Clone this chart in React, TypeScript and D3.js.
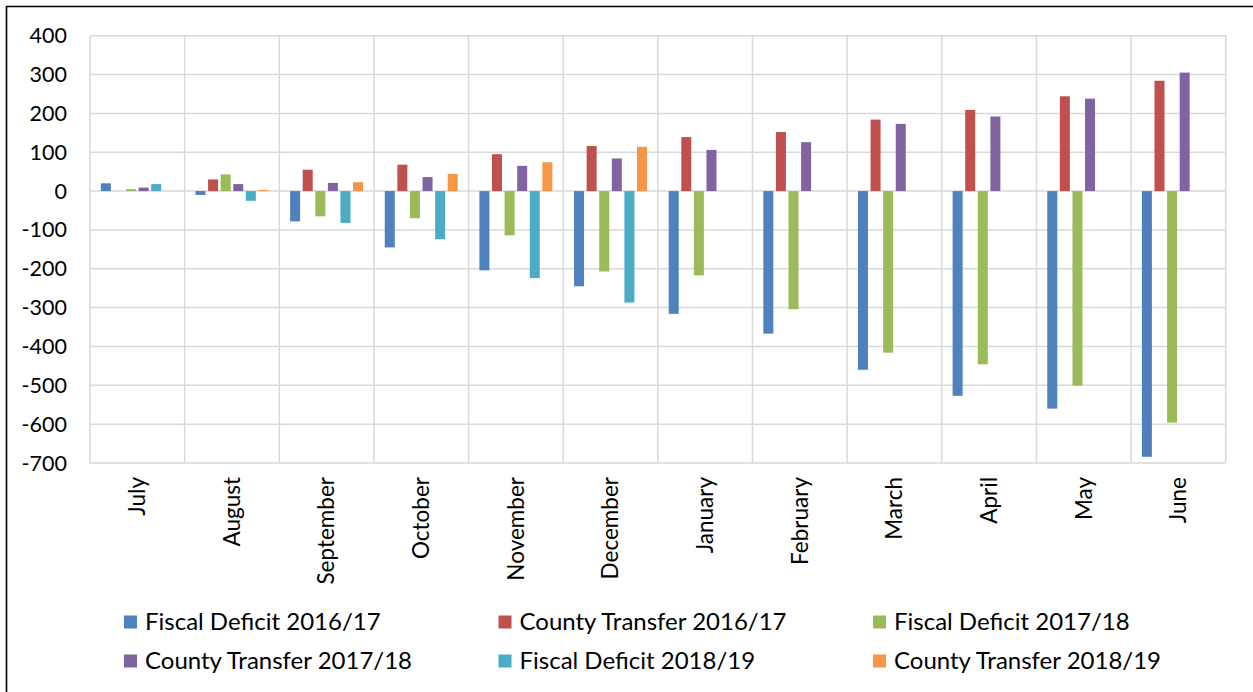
import React from 'react';
import * as d3 from 'd3';

// Months of the fiscal year (July to June)
const months = [
    'July', 'August', 'September', 'October', 'November', 'December',
    'January', 'February', 'March', 'April', 'May', 'June',
];

const seriesNames = [
    'Fiscal Deficit 2016/17',
    'County Transfer 2016/17',
    'Fiscal Deficit 2017/18',
    'County Transfer 2017/18',
    'Fiscal Deficit 2018/19',
    'County Transfer 2018/19',
];

const seriesColors = ['#4F81BD', '#C0504D', '#9BBB59', '#8064A2', '#4BACC6', '#F79646'];

const fiscalDeficit1617 = [20, -10, -78, -145, -204, -245, -316, -367, -460, -527, -560, -684];
const countyTransfer1617 = [0, 30, 55, 68, 95, 116, 139, 152, 184, 209, 244, 284];
const fiscalDeficit1718 = [5, 43, -65, -70, -114, -207, -217, -304, -416, -446, -501, -596];
const countyTransfer1718 = [9, 18, 21, 36, 65, 84, 106, 126, 173, 192, 238, 305];
const fiscalDeficit1819 = [18, -25, -82, -124, -224, -287, null, null, null, null, null, null];
const countyTransfer1819 = [0, 3, 23, 44, 74, 114, null, null, null, null, null, null];

const seriesValues = [
    fiscalDeficit1617,
    countyTransfer1617,
    fiscalDeficit1718,
    countyTransfer1718,
    fiscalDeficit1819,
    countyTransfer1819,
];

const yTicks = [400, 300, 200, 100, 0, -100, -200, -300, -400, -500, -600, -700];

const WIDTH = 1253;
const HEIGHT = 692;
const FONT = 'Lato, "Liberation Sans", sans-serif';

export default function App() {
    const plot = { left: 90, right: 1225.7, top: 35.7, bottom: 463 };

    const x0 = d3
        .scaleBand<string>()
        .domain(months)
        .range([plot.left, plot.right])
        .padding(0);

    const x1 = d3
        .scaleBand<string>()
        .domain(seriesNames)
        .range([0, x0.bandwidth()])
        .paddingInner(0.206)
        .paddingOuter(0.861);

    const y = d3.scaleLinear().domain([-700, 400]).range([plot.bottom, plot.top]);

    const legendCols = [124, 498.5, 873];
    const legendRows = [622, 661];

    return (
        <div style={{ position: 'fixed', left: 0, top: 0, width: WIDTH, height: HEIGHT, background: '#fff' }}>
            <svg width={WIDTH} height={HEIGHT} style={{ display: 'block', fontFamily: FONT }}>
                <rect x={0} y={0} width={WIDTH} height={HEIGHT} fill="#fff" />
                {/* outer frame (only left and top edges visible) */}
                <line x1={6.5} y1={6} x2={6.5} y2={HEIGHT} stroke="#000" strokeWidth={1.6} />
                <line x1={6} y1={6.5} x2={WIDTH} y2={6.5} stroke="#000" strokeWidth={1.6} />

                {/* horizontal gridlines */}
                {yTicks.map((t) => (
                    <line
                        key={`h${t}`}
                        x1={plot.left}
                        x2={plot.right}
                        y1={y(t)}
                        y2={y(t)}
                        stroke="#D9D9D9"
                        strokeWidth={1.5}
                    />
                ))}
                {/* vertical gridlines at category boundaries */}
                {months.concat(['end']).map((m, i) => {
                    const xx = plot.left + i * x0.step();
                    return (
                        <line
                            key={`v${m}`}
                            x1={xx}
                            x2={xx}
                            y1={plot.top}
                            y2={plot.bottom}
                            stroke="#D9D9D9"
                            strokeWidth={1.5}
                        />
                    );
                })}

                {/* bars */}
                {seriesValues.map((vals, si) => (
                    <g key={seriesNames[si]} fill={seriesColors[si]}>
                        {vals.map((v, mi) => {
                            if (v === null || v === 0) return null;
                            const bx = x0(months[mi])! + x1(seriesNames[si])!;
                            const top = y(Math.max(0, v));
                            const bottom = y(Math.min(0, v));
                            return (
                                <rect
                                    key={mi}
                                    x={bx}
                                    y={top}
                                    width={x1.bandwidth()}
                                    height={bottom - top}
                                />
                            );
                        })}
                    </g>
                ))}

                {/* y axis labels */}
                {yTicks.map((t) => (
                    <text
                        key={`t${t}`}
                        x={67}
                        y={y(t)}
                        dy="0.35em"
                        textAnchor="end"
                        fontSize={21.5}
                        fill="#000"
                    >
                        {t}
                    </text>
                ))}

                {/* month labels, rotated */}
                {months.map((m) => (
                    <text
                        key={`m${m}`}
                        transform={`translate(${x0(m)! + x0.bandwidth() / 2}, 477) rotate(-90)`}
                        dy="0.35em"
                        textAnchor="end"
                        fontSize={22.5}
                        fill="#000"
                    >
                        {m}
                    </text>
                ))}

                {/* legend */}
                {seriesNames.map((name, i) => {
                    const lx = legendCols[i % 3];
                    const ly = legendRows[Math.floor(i / 3)];
                    return (
                        <g key={`l${name}`} transform={`translate(${lx}, ${ly})`}>
                            <rect x={0} y={-6.5} width={13} height={13} fill={seriesColors[i]} />
                            <text x={21} y={0} dy="0.35em" fontSize={24} fill="#000">
                                {name}
                            </text>
                        </g>
                    );
                })}
            </svg>
        </div>
    );
}
